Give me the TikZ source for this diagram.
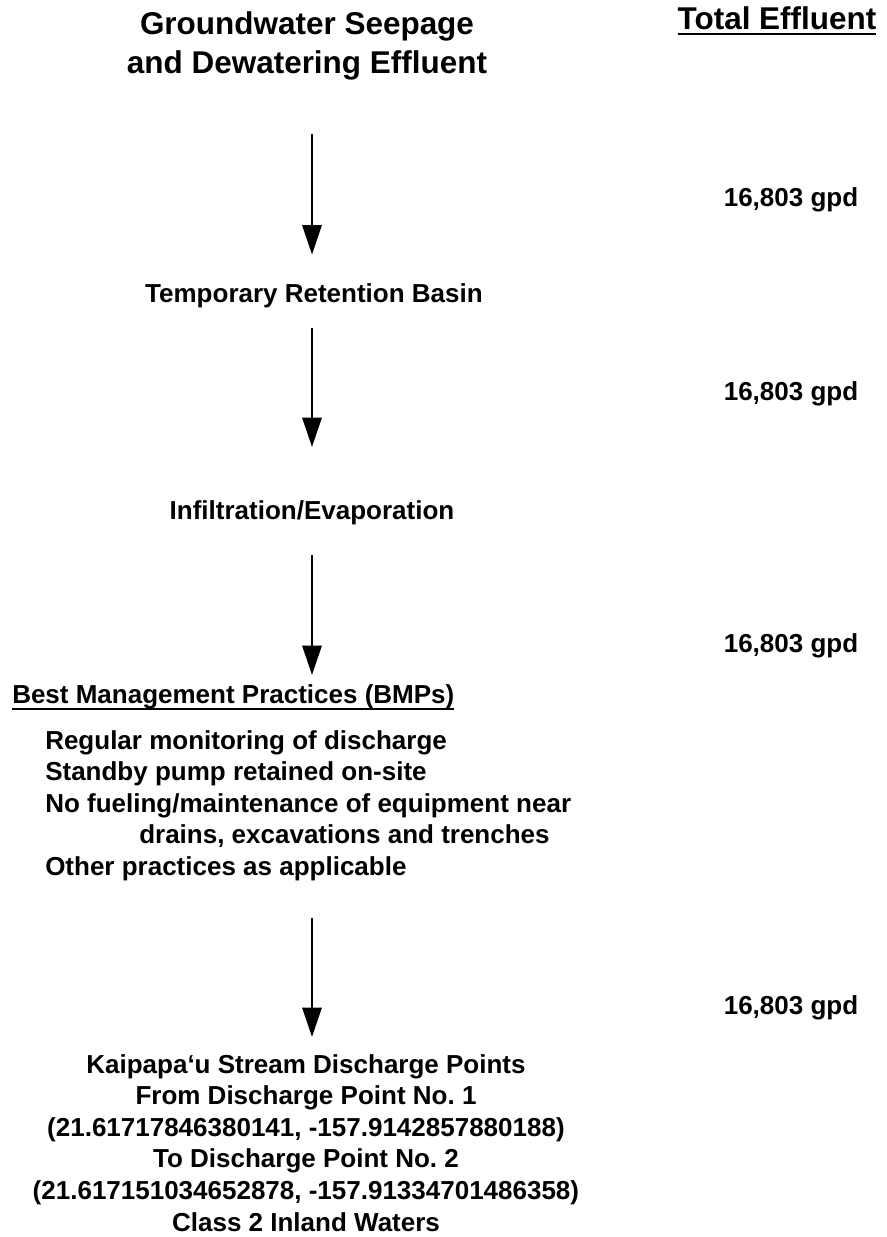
\documentclass[tikz,border=0pt]{standalone}
\usepackage{fontspec}
\setmainfont{Liberation Sans}
\usetikzlibrary{arrows.meta}
\frenchspacing

\newsavebox\ulinebox
\newcommand\ulined[2]{\sbox\ulinebox{#2}\rlap{\rule[-#1]{\wd\ulinebox}{1.5pt}}\usebox\ulinebox}

\begin{document}
\begin{tikzpicture}[
        x=0.75pt, y=-0.75pt,
        txt/.style={inner sep=0pt, anchor=base, align=center, font=\bfseries\fontsize{19.5}{23.7}\selectfont},
        heading/.style={txt, font=\bfseries\fontsize{23.6}{29.25}\selectfont},
        flow/.style={-{Triangle[length=22pt, width=14.5pt]}, line width=1.5pt}
    ]
        \useasboundingbox (0,0) rectangle (886,1237);

        % Main flow nodes (multi-line nodes sit on their last baseline)
        \node[heading] (source) at (307,74) {Groundwater Seepage\\and Dewatering Effluent};
        \node[heading] (total) at (777,30) {\ulined{3.4pt}{Total Effluent}};
        \node[txt] (basin) at (314,302) {Temporary Retention Basin};
        \node[txt] (infil) at (312,519) {Infiltration/Evaporation};
        \node[txt, anchor=base west] (bmphead) at (12,703) {\ulined{5.25pt}{Best Management Practices (BMPs)}};
        \node[txt, anchor=base west, align=left, font=\bfseries\fontsize{19.5}{23.6}\selectfont] (bmplist) at (45,875)
            {Regular monitoring of discharge\\
             Standby pump retained on-site\\
             No fueling/maintenance of equipment near\\
             \hspace*{70.5pt}drains, excavations and trenches\\
             Other practices as applicable};
        \node[txt] (outlet) at (306,1231)
            {Kaipapa‘u Stream Discharge Points\\
             From Discharge Point No. 1\\
             (21.61717846380141, -157.9142857880188)\\
             To Discharge Point No. 2\\
             (21.617151034652878, -157.91334701486358)\\
             Class 2 Inland Waters};

        % Flow volumes
        \node[txt] (vol1) at (791,207) {16,803 gpd};
        \node[txt] (vol2) at (791,400) {16,803 gpd};
        \node[txt] (vol3) at (791,652) {16,803 gpd};
        \node[txt] (vol4) at (791,1014) {16,803 gpd};

        % Main flow arrows
        \draw[flow, shorten <=40pt, shorten >=21.3pt] (source.south -| infil) -- (basin.north -| infil);
        \draw[flow, shorten <=15.4pt, shorten >=39.7pt] (basin.south -| infil) -- (infil.north);
        \draw[flow, shorten <=22.9pt, shorten >=6.7pt] (infil.south) -- (infil.south |- bmphead.north);
        \draw[flow, shorten <=28pt, shorten >=12.7pt] (bmplist.south -| infil) -- (outlet.north -| infil);
    \end{tikzpicture}
\end{document}
